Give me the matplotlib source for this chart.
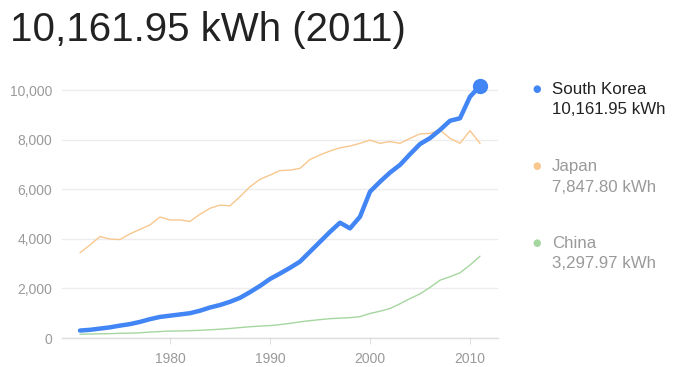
import matplotlib
matplotlib.use("Agg")
import matplotlib.pyplot as plt
from matplotlib.ticker import FuncFormatter

plt.rcParams["font.family"] = ["Liberation Sans", "DejaVu Sans"]

years = list(range(1971, 2012))

south_korea = [300, 330, 380, 430, 500, 560, 650, 760, 850, 900,
               950, 1000, 1100, 1230, 1330, 1460, 1620, 1850, 2100, 2380,
               2600, 2830, 3080, 3480, 3880, 4280, 4650, 4420, 4890, 5900,
               6300, 6670, 6980, 7410, 7820, 8060, 8390, 8760, 8860, 9730,
               10161.95]

japan = [3440, 3750, 4090, 3990, 3970, 4200, 4380, 4560, 4880, 4760,
         4760, 4700, 4990, 5230, 5360, 5330, 5700, 6100, 6400, 6570,
         6750, 6770, 6840, 7200, 7380, 7540, 7670, 7740, 7850, 7980,
         7850, 7920, 7850, 8050, 8230, 8250, 8390, 8050, 7850, 8360,
         7847.80]

china = [150, 160, 170, 175, 190, 195, 210, 240, 260, 280,
         285, 295, 310, 330, 355, 385, 420, 455, 480, 500,
         540, 590, 650, 700, 740, 780, 800, 820, 860, 990,
         1080, 1190, 1380, 1590, 1780, 2040, 2330, 2470, 2630, 2940,
         3297.97]

y_ticks = [0, 2000, 4000, 6000, 8000, 10000]
x_ticks = [1980, 1990, 2000, 2010]

names = ["South Korea", "Japan", "China"]
series = [south_korea, japan, china]
colors = ["#4285f4", "#f8c78e", "#a5d6a0"]
legend_text_colors = ["#222222", "#9a9a9a", "#9a9a9a"]

W, H = 681, 367
fig = plt.figure(figsize=(W / 100, H / 100), dpi=100)

left, right, top, bottom = 62, 498, 80, 338
ax = fig.add_axes([left / W, 1 - bottom / H, (right - left) / W, (bottom - top) / H])

ax.set_xlim(1969.2, 2012.8)
ymax = 10000 * (bottom - top) / (bottom - 90)
ax.set_ylim(0, ymax)

for s in ["top", "right", "left"]:
    ax.spines[s].set_visible(False)
ax.spines["bottom"].set_color("#dddddd")
ax.spines["bottom"].set_linewidth(1.0)

ax.set_yticks(y_ticks)
ax.set_xticks(x_ticks)
ax.yaxis.set_major_formatter(FuncFormatter(lambda v, p: f"{int(v):,}"))
ax.tick_params(axis="y", length=0, pad=7, labelsize=10, labelcolor="#9a9a9a")
ax.tick_params(axis="x", length=4, width=0.8, color="#e0e0e0", pad=6,
               labelsize=10, labelcolor="#9a9a9a")
ax.grid(axis="y", color="#ededed", linewidth=1.0)
ax.set_axisbelow(True)

ax.plot(years, china, color=colors[2], linewidth=1.0, solid_capstyle="round")
ax.plot(years, japan, color=colors[1], linewidth=1.0, solid_capstyle="round")
ax.plot(years, south_korea, color=colors[0], linewidth=3.2,
        solid_capstyle="round", solid_joinstyle="round")
ax.plot([years[-1]], [south_korea[-1]], "o", color=colors[0],
        markersize=10, clip_on=False, zorder=5)

# headline value for the highlighted series
fig.text(10 / W, 1 - 41 / H, f"{south_korea[-1]:,.2f} kWh ({years[-1]})",
         fontsize=29, color="#222222", ha="left", va="baseline")

# legend with latest values
legend_y = [89, 166, 243]
for name, vals, col, tcol, ly in zip(names, series, colors, legend_text_colors, legend_y):
    fig.text(537 / W, 1 - ly / H, "\u25CF", color=col, fontsize=7,
             ha="center", va="center", family="DejaVu Sans")
    fig.text(552 / W, 1 - ly / H, name, color=tcol, fontsize=12.2,
             ha="left", va="center")
    fig.text(552 / W, 1 - (ly + 21) / H, f"{vals[-1]:,.2f} kWh", color=tcol,
             fontsize=12.2, ha="left", va="center")

fig.savefig("out.png", dpi=100)
